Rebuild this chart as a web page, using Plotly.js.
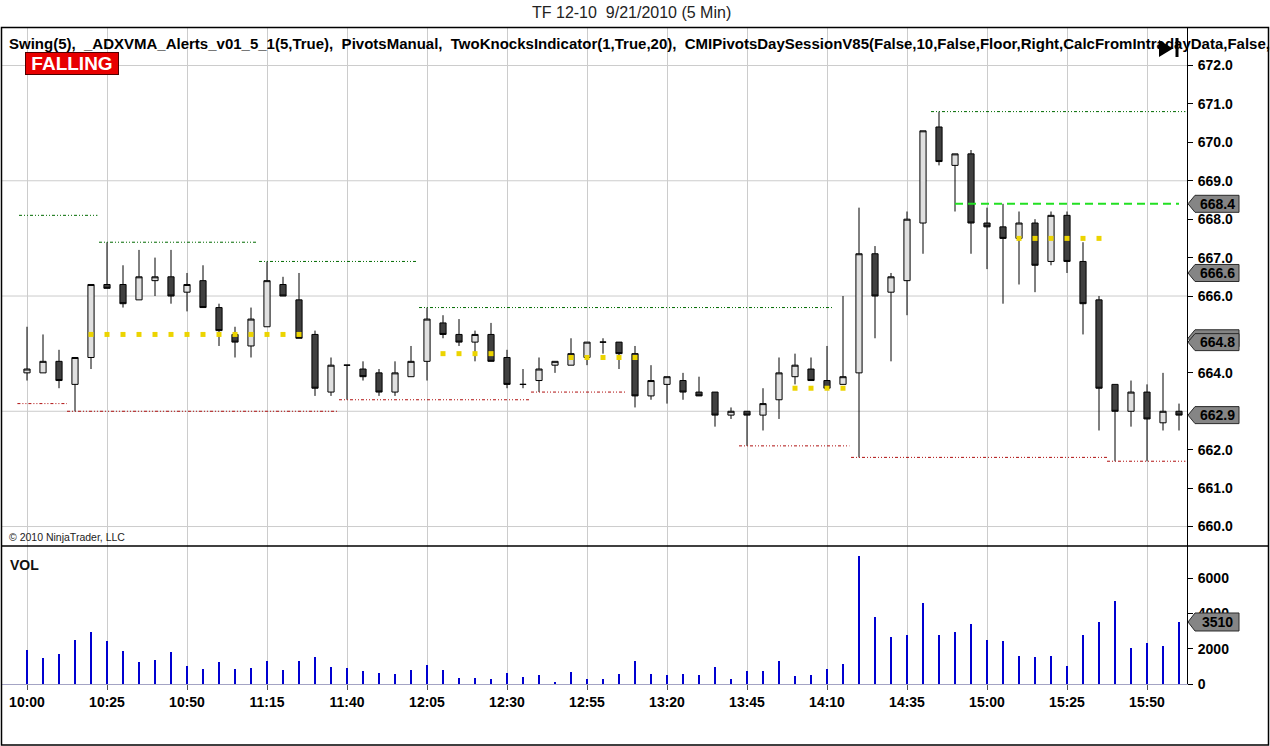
<!DOCTYPE html>
<html><head><meta charset="utf-8">
<script src="https://cdn.plot.ly/plotly-3.0.1.min.js"></script>
<style>html,body{margin:0;padding:0;background:#fff}#chart{width:1270px;height:746px}</style>
</head><body><div id="chart"></div>
<script>
const times = ["10:00","10:05","10:10","10:15","10:20","10:25","10:30","10:35","10:40","10:45",
"10:50","10:55","11:00","11:05","11:10","11:15","11:20","11:25","11:30","11:35",
"11:40","11:45","11:50","11:55","12:00","12:05","12:10","12:15","12:20","12:25",
"12:30","12:35","12:40","12:45","12:50","12:55","13:00","13:05","13:10","13:15",
"13:20","13:25","13:30","13:35","13:40","13:45","13:50","13:55","14:00","14:05",
"14:10","14:15","14:20","14:25","14:30","14:35","14:40","14:45","14:50","14:55",
"15:00","15:05","15:10","15:15","15:20","15:25","15:30","15:35","15:40","15:45",
"15:50","15:55","16:00"];
const openP  = [664.0,664.0,664.3,663.7,664.4,666.3,666.3,665.9,666.4,666.5,666.1,666.4,665.7,665.0,664.7,665.2,666.3,665.9,665.0,663.5,664.2,664.1,664.0,663.5,663.9,664.3,665.3,665.0,664.8,665.0,664.4,663.7,663.8,664.2,664.2,664.4,664.8,664.8,664.5,663.4,663.7,663.8,663.5,663.5,662.9,663.0,662.9,663.3,663.9,664.1,663.8,663.7,664.0,667.1,666.1,666.4,667.9,670.4,669.4,669.7,667.9,667.8,667.5,667.9,666.9,668.1,666.9,665.9,663.7,663.0,663.5,662.7,663.0];
const highP  = [665.2,665.0,664.6,664.4,666.3,667.4,666.8,667.2,667.0,667.2,666.6,666.8,665.8,665.2,665.7,666.9,666.5,666.6,665.1,664.4,664.2,664.3,664.1,664.3,664.7,665.7,665.5,665.4,665.1,665.3,664.6,664.1,664.4,664.3,664.9,664.8,664.9,664.8,664.7,664.2,663.9,664.0,663.9,663.5,663.1,663.0,663.6,664.4,664.5,664.4,664.7,666.0,668.3,667.3,666.6,668.2,670.3,670.8,669.7,669.8,668.3,668.4,668.2,668.0,668.2,668.2,667.4,666.0,663.7,663.8,663.7,664.0,663.2];
const lowP   = [663.8,664.0,663.6,663.0,664.1,666.2,665.7,665.9,666.0,665.8,665.6,665.7,664.7,664.4,664.4,665.2,666.0,664.9,663.4,663.4,663.3,663.8,663.4,663.4,663.9,663.8,664.9,664.7,664.3,664.3,663.6,663.6,663.5,664.0,664.2,664.2,664.5,664.1,663.1,663.3,663.2,663.3,663.4,662.6,662.8,662.1,662.5,662.8,663.7,663.8,663.6,663.7,661.8,664.9,664.3,665.5,667.1,669.4,668.2,667.1,666.7,665.8,666.3,666.1,666.8,666.6,665.0,662.5,661.7,662.6,661.7,662.5,662.5];
const closeP = [664.1,664.3,663.8,664.4,666.3,666.2,665.8,666.5,666.5,666.0,666.3,665.7,665.1,664.8,665.4,666.4,666.0,664.9,663.6,664.2,664.2,663.9,663.5,664.0,664.3,665.4,665.0,664.8,665.0,664.3,663.7,663.7,664.1,664.3,664.5,664.8,664.8,664.5,663.4,663.8,663.9,663.5,663.4,662.9,663.0,662.9,663.2,664.0,664.2,663.8,663.6,663.9,667.1,666.0,666.5,668.0,670.3,669.5,669.7,667.9,667.8,667.5,667.9,666.8,668.1,666.9,665.8,663.6,663.0,663.5,662.8,663.0,662.9];
const volume = [1900,1460,1680,2470,2970,2410,1850,1230,1350,1790,1010,840,1230,840,900,1290,790,1290,1510,950,900,730,620,560,790,1070,790,340,340,280,620,390,500,110,670,280,280,560,1290,560,500,560,500,950,280,730,730,1290,450,500,840,1120,7230,3810,2640,2800,4600,2800,2920,3420,2470,2410,1570,1510,1570,1010,2800,3530,4710,2020,2300,2130,3510];
const twoKnocks = [null,null,null,null,665.0,665.0,665.0,665.0,665.0,665.0,665.0,665.0,665.0,665.0,665.0,665.0,665.0,665.0,null,null,
null,null,null,null,null,null,664.5,664.5,664.5,664.5,null,null,null,null,664.4,664.4,664.4,664.4,664.4,null,
null,null,null,null,null,null,null,null,663.6,663.6,663.6,663.6,null,null,null,null,null,null,null,null,
null,null,667.5,667.5,667.5,667.5,667.5,667.5,null,null,null,null,null];
const swingHighPrice = [668.1,667.4,666.9,665.7,670.8];
const swingHighStart = [-0.5,4.5,14.5,24.5,56.5];
const swingHighEnd   = [4.4,14.4,24.4,50.4,72.4];
const swingLowPrice  = [663.2,663.0,663.3,663.5,662.1,661.8,661.7];
const swingLowStart  = [-0.6,2.5,19.5,31.5,44.5,51.5,67.5];
const swingLowEnd    = [2.5,19.4,31.4,37.4,51.4,67.5,72.4];
const manualLevel = [668.4];
const manualStart = [58];
const manualEnd   = [72];
const priceGrid = [660,663,666,669,672];
const priceTicks = [660,661,662,664,666,667,668,669,670,671,672];
const volTicks = [0,2000,4000,6000];
const markerPrices = [668.4,666.6,664.9,664.8,662.9];
const markerShowText = [true,true,false,true,true];

const FONT = "Liberation Sans, Arial, sans-serif";
const W=1270,H=746,L=2,R=83,T=27,B=62;
const plotW=W-L-R, plotH=H-T-B;
const px = x => (x-L)/plotW;
const py = y => (H-B-y)/plotH;

const idx = times.map((t,i)=>i);

function segs(starts, ends, vals){
  const xs=[],ys=[];
  vals.forEach((v,i)=>{xs.push(starts[i],ends[i],null);ys.push(v,v,null);});
  return {xs,ys};
}
const sh = segs(swingHighStart,swingHighEnd,swingHighPrice);
const sl = segs(swingLowStart,swingLowEnd,swingLowPrice);
const ml = segs(manualStart,manualEnd,manualLevel);

const traces = [
  {type:'scatter',mode:'lines',x:sh.xs,y:sh.ys,xaxis:'x',yaxis:'y',
   line:{color:'#006a00',width:1,dash:'3px,2px,1px,2px,1px,2px'},hoverinfo:'skip',connectgaps:false},
  {type:'scatter',mode:'lines',x:sl.xs,y:sl.ys,xaxis:'x',yaxis:'y',
   line:{color:'#b01010',width:1,dash:'3px,2px,1px,2px,1px,2px'},hoverinfo:'skip',connectgaps:false},
  {type:'candlestick',x:idx,open:openP,high:highP,low:lowP,close:closeP,xaxis:'x',yaxis:'y',
   whiskerwidth:0,
   increasing:{line:{color:'#000',width:1},fillcolor:'#e0e0e0'},
   decreasing:{line:{color:'#000',width:1},fillcolor:'#404040'},hoverinfo:'skip'},
  {type:'scatter',mode:'markers',x:idx,y:twoKnocks,xaxis:'x',yaxis:'y',
   marker:{symbol:'square',size:5,color:'#ecd400',line:{width:0}},hoverinfo:'skip'},
  {type:'scatter',mode:'lines',x:ml.xs,y:ml.ys,xaxis:'x',yaxis:'y',
   line:{color:'#22e022',width:2,dash:'8px,5px'},hoverinfo:'skip'},
  {type:'bar',x:idx,y:volume,xaxis:'x',yaxis:'y2',width:0.14,
   marker:{color:'#0000d0',line:{width:0}},hoverinfo:'skip'}
];

const pTop = 672 + (65.5-27)/38.42;
const pBot = 672 - (546-65.5)/38.42;
const vTop = (684-546)/17.667*1000;
const splitY = py(546);

const tickIdx = idx.filter(i=>i%5===0);
const axFont = {family:FONT,size:14,color:'#000',weight:'bold'};

const shapes = [];
priceGrid.forEach(v=>shapes.push({type:'line',xref:'paper',yref:'y',x0:0,x1:1,y0:v,y1:v,
  line:{color:'#cccccc',width:1},layer:'below'}));
shapes.push({type:'rect',xref:'paper',yref:'paper',x0:px(1.5),x1:px(1268.5),y0:py(745),y1:py(27.5),
  line:{color:'#000',width:1.5},layer:'above'});
shapes.push({type:'line',xref:'paper',yref:'paper',x0:px(1.5),x1:px(1268.5),y0:splitY,y1:splitY,
  line:{color:'#000',width:1.5},layer:'above'});
shapes.push({type:'path',xref:'paper',yref:'paper',
  path:`M ${px(1159)},${py(40)} L ${px(1159)},${py(57)} L ${px(1173)},${py(48.5)} Z`,
  fillcolor:'#000',line:{width:0},layer:'above'});
shapes.push({type:'rect',xref:'paper',yref:'paper',x0:px(1175.5),x1:px(1178.5),y0:py(57),y1:py(38),
  fillcolor:'#000',line:{width:0},layer:'above'});

function callout(yref, val, halfH){
  const a=px(1188), b=px(1195), c=px(1239);
  return {type:'path',xref:'paper',yref:yref,
    path:`M ${a},${val} L ${b},${val+halfH} L ${c},${val+halfH} L ${c},${val-halfH} L ${b},${val-halfH} Z`,
    fillcolor:'#858585',line:{color:'#2a2a2a',width:1},layer:'above'};
}
const annotations = [];
markerPrices.forEach((v,i)=>{
  shapes.push(callout('y',v,8.5/38.42));
  if(markerShowText[i]) annotations.push({xref:'paper',yref:'y',x:px(1217),y:v,xanchor:'center',yanchor:'middle',
    text:v.toFixed(1),showarrow:false,font:axFont});
});
const lastVol = volume[volume.length-1];
shapes.push(callout('y2',lastVol,9/17.667*1000));
annotations.push({xref:'paper',yref:'y2',x:px(1217),y:lastVol,xanchor:'center',yanchor:'middle',
  text:String(lastVol),showarrow:false,font:axFont});

annotations.push({xref:'paper',yref:'paper',x:px(631),y:py(13),xanchor:'center',yanchor:'middle',
  text:'TF 12-10&nbsp; 9/21/2010 (5 Min)',showarrow:false,font:{family:FONT,size:16,color:'#222'}});
annotations.push({xref:'paper',yref:'paper',x:px(7),y:py(43),xanchor:'left',yanchor:'middle',
  text:'Swing(5),&nbsp; _ADXVMA_Alerts_v01_5_1(5,True),&nbsp; PivotsManual,&nbsp; TwoKnocksIndicator(1,True,20),&nbsp; CMIPivotsDaySessionV85(False,10,False,Floor,Right,CalcFromIntradayData,False,',
  showarrow:false,font:{family:FONT,size:15,color:'#000',weight:'bold'}});
annotations.push({xref:'paper',yref:'paper',x:px(25),y:py(52),xanchor:'left',yanchor:'top',
  text:'FALLING',showarrow:false,width:92,height:21,borderpad:0,align:'center',valign:'middle',
  bgcolor:'#e80000',bordercolor:'#500000',borderwidth:1,
  font:{family:FONT,size:19,color:'#fff',weight:'bold'}});
annotations.push({xref:'paper',yref:'paper',x:px(7),y:py(537),xanchor:'left',yanchor:'middle',
  text:'© 2010 NinjaTrader, LLC',showarrow:false,font:{family:FONT,size:10.5,color:'#222'}});
annotations.push({xref:'paper',yref:'paper',x:px(8),y:py(565),xanchor:'left',yanchor:'middle',
  text:'VOL',showarrow:false,font:{family:FONT,size:14,color:'#111',weight:'bold'}});

const layout = {
  width:W,height:H,margin:{l:L,r:R,t:T,b:B,pad:0},
  paper_bgcolor:'#fff',plot_bgcolor:'#fff',showlegend:false,
  boxgap:0.45,bargap:0,
  font:{family:FONT,color:'#000'},
  xaxis:{domain:[0,1],range:[(2-27)/16,(1187-27)/16],anchor:'y2',
    tickmode:'array',tickvals:tickIdx,ticktext:tickIdx.map(i=>times[i]),
    ticks:'outside',ticklen:5,tickcolor:'#555',showline:true,linecolor:'#a4a4c4',linewidth:1,
    showgrid:true,gridcolor:'#cccccc',gridwidth:1,zeroline:false,tickfont:axFont,
    rangeslider:{visible:false},fixedrange:true},
  yaxis:{domain:[splitY,1],range:[pBot,pTop],side:'right',anchor:'x',
    tickmode:'array',tickvals:priceTicks,ticktext:priceTicks.map(v=>v.toFixed(1)),showgrid:false,zeroline:false,
    showline:true,linecolor:'#000',linewidth:1,ticks:'outside',ticklen:5,tickcolor:'#000',
    ticklabelstandoff:2,tickfont:axFont,fixedrange:true},
  yaxis2:{domain:[0,splitY],range:[0,vTop],side:'right',anchor:'x',
    tickmode:'array',tickvals:volTicks,ticktext:volTicks.map(String),showgrid:false,zeroline:false,
    showline:true,linecolor:'#000',linewidth:1,ticks:'outside',ticklen:5,tickcolor:'#000',
    ticklabelstandoff:2,tickfont:axFont,fixedrange:true},
  shapes:shapes,annotations:annotations
};
Plotly.newPlot('chart',traces,layout,{displayModeBar:false,staticPlot:true});
</script></body></html>
